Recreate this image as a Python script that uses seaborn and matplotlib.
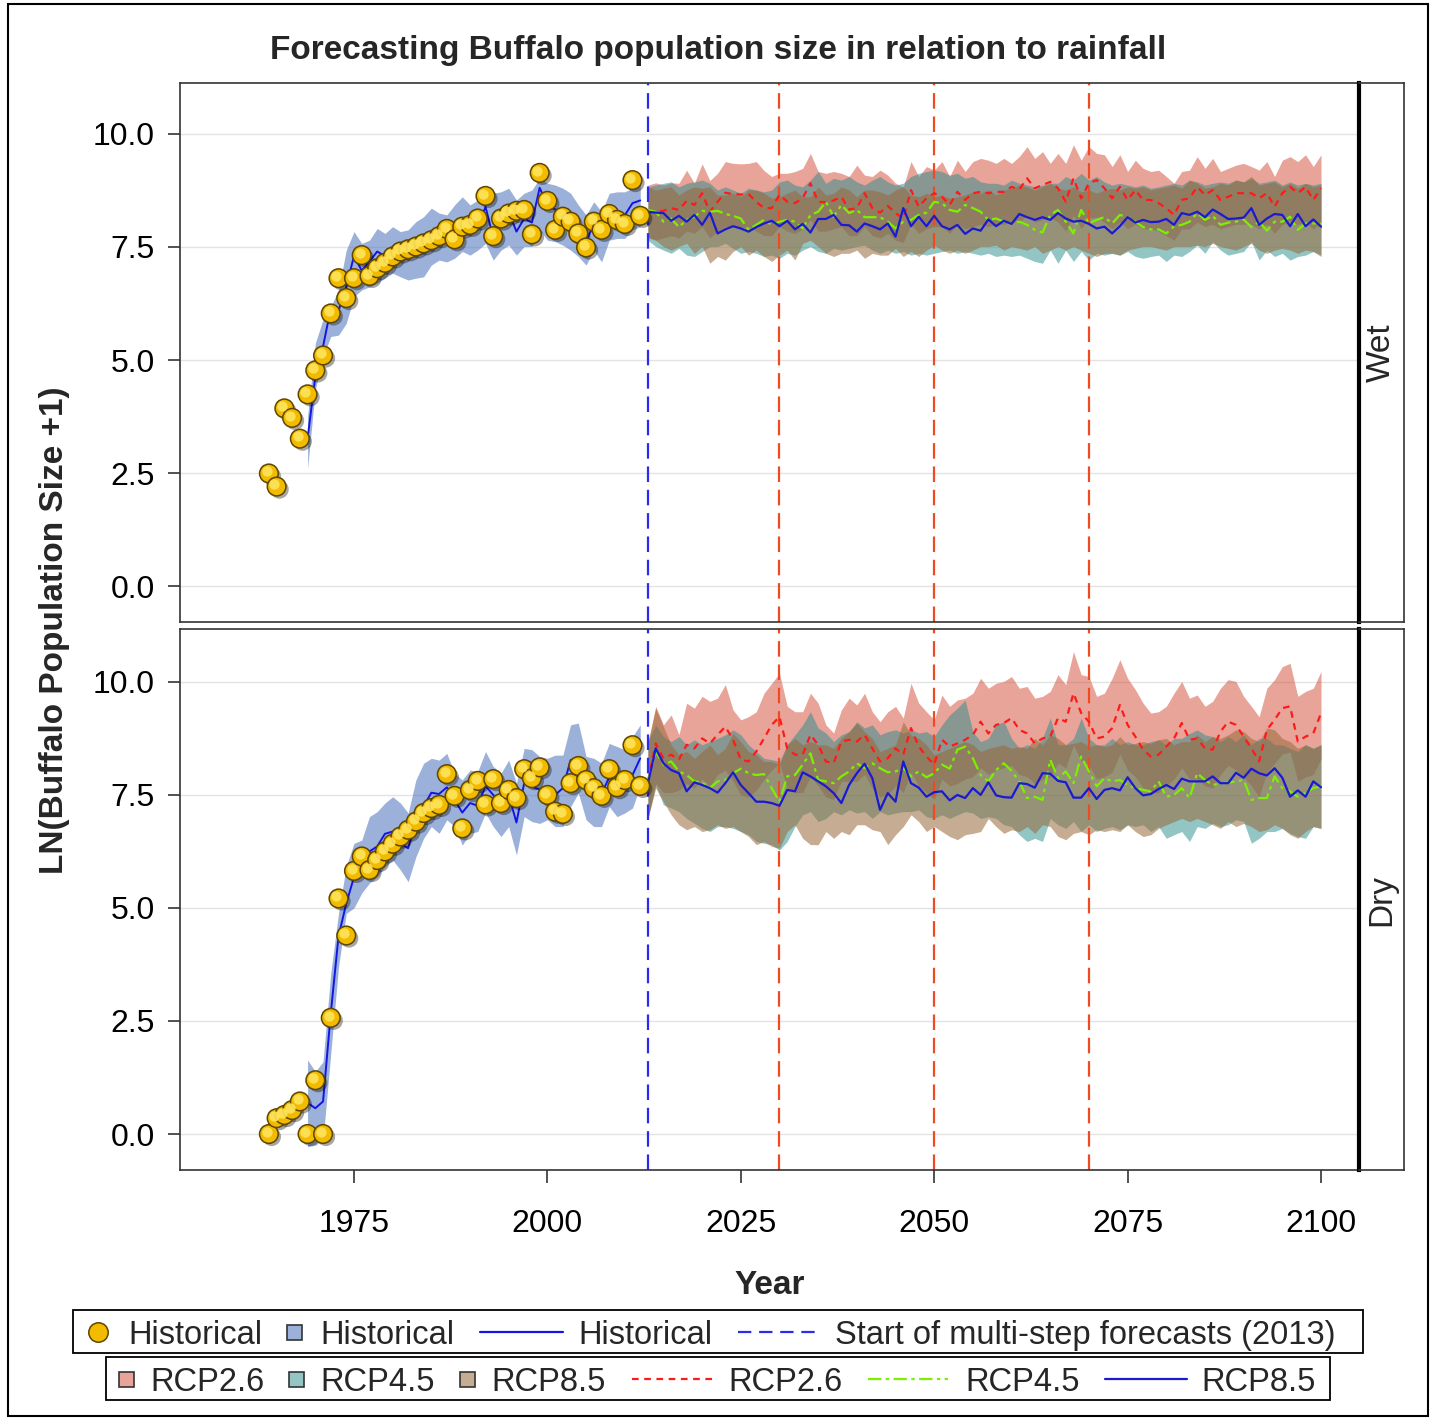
import matplotlib
matplotlib.use("Agg")
import matplotlib.pyplot as plt
import matplotlib.patheffects as pe
from matplotlib.lines import Line2D
from matplotlib.patches import Rectangle
from matplotlib.transforms import offset_copy
import numpy as np
import pandas as pd
import seaborn as sns

# ---------------------------------------------------------------- data
hist_years = list(range(1964, 2013))
fit_years = list(range(1969, 2013))
fc_years = list(range(2013, 2101))

# Wet panel -------------------------------------------------------------
wet_points = [2.49, 2.20, 3.93, 3.72, 3.26, 4.24, 4.77, 5.10, 6.03, 6.81, 6.37, 6.81, 7.32, 6.86, 7.03, 7.15, 7.29,
              7.40, 7.45, 7.51, 7.58, 7.65, 7.74, 7.90, 7.67, 7.95, 7.99, 8.13, 8.63, 7.74, 8.13, 8.24, 8.30, 8.32,
              7.78, 9.14, 8.52, 7.88, 8.17, 8.06, 7.80, 7.49, 8.06, 7.88, 8.23, 8.10, 8.01, 8.98, 8.19]
wet_fit = [3.26, 4.63, 5.30, 6.14, 6.09, 6.62, 7.30, 6.98, 7.18, 7.40, 7.30, 7.43, 7.29, 7.30, 7.35, 7.52, 7.86, 7.69,
           7.67, 7.96, 8.08, 7.84, 7.93, 8.39, 7.71, 8.20, 8.28, 7.84, 8.13, 8.04, 8.81, 8.43, 8.33, 8.28, 8.10, 7.84,
           7.62, 8.01, 7.69, 8.19, 8.20, 8.20, 8.47, 8.53]
wet_fit_hi = [3.75, 5.37, 5.90, 6.18, 6.55, 7.43, 7.84, 7.58, 7.65, 7.91, 7.80, 7.95, 7.84, 7.88, 8.06, 8.17, 8.36, 8.25,
              8.21, 8.43, 8.61, 8.43, 8.54, 8.87, 8.69, 8.72, 8.80, 8.54, 8.69, 8.76, 9.02, 8.91, 8.87, 8.80, 8.69,
              8.43, 8.21, 8.50, 8.28, 8.69, 8.72, 8.72, 8.80, 8.91]
wet_fit_lo = [2.60, 4.34, 5.07, 5.52, 5.55, 5.81, 6.40, 6.55, 6.62, 6.70, 6.81, 6.92, 6.84, 6.77, 6.81, 6.84, 7.10, 7.21,
              7.17, 7.25, 7.40, 7.32, 7.43, 7.58, 7.21, 7.43, 7.54, 7.32, 7.51, 7.51, 7.88, 7.65, 7.62, 7.54, 7.43,
              7.29, 7.10, 7.43, 7.17, 7.65, 7.69, 7.69, 7.88, 7.95]

wet_rcp26 = [8.25, 8.28, 8.30, 8.36, 8.32, 8.52, 8.43, 8.69, 8.28, 8.50, 8.70, 8.67, 8.66, 8.67, 8.50, 8.36, 8.36, 8.66,
             8.50, 8.47, 8.58, 8.91, 8.50, 8.49, 8.53, 8.61, 8.33, 8.36, 8.69, 8.36, 8.26,
             8.41, 8.25, 8.13, 8.76, 8.39, 8.58, 8.69, 8.61, 8.43, 8.72, 8.54, 8.69, 8.72, 8.69, 8.72, 8.72, 8.83,
             8.77, 9.02, 8.80, 8.87, 8.94, 8.80, 8.50, 9.02, 8.58, 8.91, 8.98, 8.80,
             8.58, 8.83, 8.54, 8.76, 8.54, 8.54, 8.47, 8.36, 8.21, 8.54, 8.58, 8.83, 8.65, 8.76, 8.54, 8.61, 8.69,
             8.69, 8.69, 8.58, 8.69, 8.39, 8.69, 8.83, 8.69, 8.83, 8.54, 8.80]
wet_rcp26_hi = [8.87, 8.92, 8.87, 8.92, 8.91, 9.20, 8.91, 9.34, 8.97, 9.13, 9.39, 9.35, 9.34, 9.35, 9.39, 9.19, 9.06,
                9.13, 9.13, 9.17, 9.24, 9.57, 9.17, 9.13, 9.17, 9.13, 9.06, 9.31, 9.09, 9.06, 9.20,
                9.09, 8.91, 8.83, 9.39, 9.06, 9.28, 9.20, 9.39, 9.06, 9.42, 9.17, 9.39, 9.46, 9.42, 9.35, 9.46, 9.35,
                9.50, 9.72, 9.46, 9.61, 9.35, 9.57, 9.35, 9.76, 9.42, 9.72, 9.57, 9.54,
                9.28, 9.54, 9.17, 9.42, 9.24, 9.17, 9.20, 9.06, 8.91, 9.17, 9.20, 9.50, 9.24, 9.46, 9.17, 9.24, 9.31,
                9.35, 9.28, 9.20, 9.39, 9.06, 9.42, 9.50, 9.39, 9.54, 9.28, 9.54]
wet_rcp26_lo = [7.70, 7.65, 7.70, 7.75, 7.70, 7.85, 7.80, 7.95, 7.70, 7.85, 7.95, 7.95, 7.90, 7.95, 7.85, 7.75, 7.75,
                7.95, 7.85, 7.80, 7.90, 8.10, 7.85, 7.85, 7.90, 7.95, 7.75, 7.75, 7.95, 7.75, 7.70,
                7.80, 7.65, 7.60, 8.00, 7.80, 7.90, 7.95, 7.95, 7.80, 8.00, 7.90, 7.95, 8.00, 7.95, 8.00, 8.00, 8.05,
                8.05, 8.20, 8.05, 8.10, 8.15, 8.05, 7.85, 8.20, 7.90, 8.15, 8.15, 8.05,
                7.90, 8.05, 7.90, 8.00, 7.90, 7.90, 7.85, 7.75, 7.65, 7.90, 7.90, 8.05, 7.95, 8.00, 7.90, 7.95, 8.00,
                8.00, 8.00, 7.90, 8.00, 7.80, 8.00, 8.05, 8.00, 8.05, 7.90, 8.05]

wet_rcp45 = [8.32, 8.28, 8.06, 8.13, 7.94, 8.10, 8.17, 8.30, 8.28, 8.30, 8.23, 8.19, 8.13, 7.88, 7.99, 8.10, 7.99, 8.06,
             8.10, 8.06, 7.91, 8.21, 8.28, 8.50, 8.17, 8.43, 8.25, 8.32, 8.16, 8.16, 8.16,
             8.06, 7.91, 8.06, 8.10, 8.21, 8.26, 8.50, 8.47, 8.32, 8.28, 8.43, 8.36, 8.28, 8.10, 8.13, 8.06, 8.02,
             8.06, 7.99, 7.88, 7.82, 8.21, 8.32, 8.06, 7.80, 8.32, 8.02, 8.10, 8.16,
             8.02, 8.21, 8.16, 8.06, 7.94, 7.89, 7.89, 7.80, 7.96, 7.99, 8.06, 8.25, 8.10, 8.19, 7.99, 8.04, 8.06,
             8.11, 7.94, 8.06, 7.86, 8.06, 8.06, 8.17, 7.88, 8.02, 8.02, 8.02]
wet_rcp45_hi = [8.83, 8.87, 8.91, 8.94, 8.83, 8.91, 8.94, 8.98, 8.91, 8.76, 8.83, 8.76, 8.69, 8.80, 8.76, 8.72, 8.76,
                8.94, 8.98, 8.87, 8.83, 8.98, 9.17, 8.91, 9.02, 8.98, 9.06, 8.94, 8.87, 8.98, 9.06,
                8.94, 8.87, 8.91, 9.06, 9.13, 9.17, 9.20, 9.17, 9.09, 9.13, 9.02, 9.06, 8.94, 8.91, 8.91, 8.87, 8.98,
                8.91, 8.87, 8.83, 8.87, 8.91, 8.91, 9.06, 8.98, 9.13, 8.98, 9.06, 8.94,
                8.87, 8.91, 8.87, 8.83, 8.87, 8.80, 8.83, 8.87, 8.91, 8.87, 8.98, 8.94, 8.87, 8.91, 8.94, 8.91, 8.98,
                8.94, 9.02, 8.91, 8.94, 8.98, 8.87, 8.94, 8.87, 8.91, 8.87, 8.91]
wet_rcp45_lo = [7.65, 7.51, 7.43, 7.36, 7.47, 7.32, 7.29, 7.40, 7.51, 7.51, 7.58, 7.47, 7.36, 7.40, 7.36, 7.29, 7.32,
                7.25, 7.36, 7.32, 7.43, 7.51, 7.40, 7.36, 7.47, 7.43, 7.47, 7.51, 7.54, 7.43, 7.36,
                7.43, 7.36, 7.40, 7.32, 7.36, 7.32, 7.36, 7.40, 7.43, 7.36, 7.40, 7.36, 7.32, 7.36, 7.29, 7.32, 7.29,
                7.32, 7.25, 7.18, 7.14, 7.43, 7.14, 7.43, 7.18, 7.40, 7.21, 7.36, 7.32,
                7.36, 7.32, 7.40, 7.29, 7.25, 7.29, 7.32, 7.18, 7.32, 7.29, 7.40, 7.54, 7.36, 7.62, 7.43, 7.32, 7.36,
                7.40, 7.62, 7.21, 7.43, 7.29, 7.36, 7.21, 7.29, 7.32, 7.40, 7.32]

wet_rcp85 = [8.28, 8.26, 8.25, 8.08, 8.19, 8.06, 8.21, 7.99, 8.26, 7.80, 7.89, 7.96, 7.91, 7.84, 7.94, 8.02, 8.08, 7.96,
             8.08, 7.89, 8.01, 7.82, 8.12, 8.12, 8.21, 7.99, 7.98, 7.84, 8.02, 7.96, 7.89,
             8.02, 7.73, 8.36, 7.96, 8.17, 7.96, 8.19, 7.96, 7.89, 7.99, 7.79, 7.91, 7.86, 8.11, 7.96, 8.08, 8.01,
             8.23, 8.16, 8.10, 8.16, 8.10, 8.25, 8.13, 8.06, 8.08, 8.01, 7.91, 7.95,
             7.80, 7.96, 8.16, 8.04, 8.10, 8.05, 8.06, 8.12, 7.99, 8.25, 8.21, 8.28, 8.16, 8.33, 8.23, 8.12, 8.13,
             8.15, 8.36, 7.99, 8.13, 8.23, 8.21, 7.96, 8.23, 7.96, 8.11, 7.95]
wet_rcp85_hi = [8.83, 8.76, 8.80, 8.83, 8.65, 8.76, 8.83, 8.80, 8.83, 8.65, 8.65, 8.69, 8.61, 8.76, 8.76, 8.69, 8.58,
                8.61, 8.69, 8.76, 8.61, 8.61, 8.83, 8.65, 8.69, 8.83, 8.76, 8.61, 8.76, 8.76, 8.72,
                8.65, 8.76, 8.83, 8.65, 8.61, 8.69, 8.61, 8.65, 8.58, 8.61, 8.65, 8.72, 8.69, 8.76, 8.65, 8.76, 8.80,
                8.87, 8.83, 8.76, 8.83, 8.91, 8.80, 8.76, 8.83, 8.72, 8.76, 8.69, 8.76,
                8.80, 8.76, 8.83, 8.80, 8.83, 8.76, 8.80, 8.83, 8.87, 8.80, 8.98, 8.91, 8.80, 8.83, 8.91, 8.87, 8.98,
                8.94, 9.06, 8.87, 8.91, 8.94, 8.83, 8.91, 8.80, 8.91, 8.83, 8.87]
wet_rcp85_lo = [7.73, 7.65, 7.51, 7.43, 7.51, 7.58, 7.36, 7.51, 7.14, 7.29, 7.21, 7.40, 7.51, 7.32, 7.43, 7.29, 7.18,
                7.32, 7.43, 7.21, 7.58, 7.65, 7.51, 7.36, 7.29, 7.36, 7.36, 7.43, 7.25, 7.36, 7.32,
                7.32, 7.47, 7.29, 7.40, 7.29, 7.43, 7.54, 7.43, 7.36, 7.43, 7.36, 7.43, 7.51, 7.51, 7.54, 7.43, 7.51,
                7.47, 7.43, 7.51, 7.36, 7.43, 7.51, 7.43, 7.51, 7.43, 7.36, 7.29, 7.36,
                7.36, 7.32, 7.43, 7.47, 7.51, 7.51, 7.47, 7.43, 7.51, 7.51, 7.51, 7.54, 7.51, 7.58, 7.51, 7.47, 7.43,
                7.51, 7.58, 7.43, 7.36, 7.43, 7.47, 7.43, 7.36, 7.43, 7.40, 7.29]

# Dry panel -------------------------------------------------------------
dry_points = [0.00, 0.35, 0.42, 0.53, 0.72, 0.00, 1.19, 0.00, 2.57, 5.21, 4.39, 5.82, 6.14, 5.84, 6.06, 6.25, 6.42,
              6.58, 6.73, 6.91, 7.10, 7.21, 7.28, 7.96, 7.48, 6.76, 7.61, 7.81, 7.29, 7.85, 7.32, 7.61, 7.43, 8.07,
              7.87, 8.11, 7.50, 7.13, 7.08, 7.76, 8.14, 7.83, 7.65, 7.48, 8.07, 7.67, 7.83, 8.60, 7.70]
dry_fit = [0.69, 0.57, 0.72, 2.67, 4.37, 5.10, 5.68, 5.70, 6.25, 6.36, 6.64, 6.69, 6.43, 6.32, 6.95, 7.25, 7.55, 7.52,
           7.67, 7.39, 7.11, 7.32, 7.26, 7.70, 7.50, 7.28, 7.50, 6.89, 7.76, 7.68, 7.62, 7.57, 7.50, 7.65, 8.27, 8.30,
           7.79, 7.53, 7.53, 7.89, 7.77, 7.83, 7.94, 8.31]
dry_fit_hi = [1.64, 1.38, 1.60, 3.56, 4.88, 5.92, 6.43, 6.50, 7.02, 7.13, 7.32, 7.46, 7.32, 7.10, 7.83, 8.20, 8.31, 8.27,
              8.42, 7.98, 7.83, 8.05, 8.02, 8.46, 8.13, 7.98, 8.27, 7.76, 8.53, 8.50, 8.35, 8.31, 8.38, 8.38, 9.05,
              9.09, 8.35, 8.31, 8.20, 8.64, 8.57, 8.50, 8.79, 9.05]
dry_fit_lo = [-0.28, -0.25, -0.13, 1.78, 3.70, 4.88, 5.00, 5.33, 5.55, 5.69, 5.91, 6.06, 5.84, 5.58, 6.13, 6.54, 6.80,
              6.65, 6.95, 6.80, 6.39, 6.65, 6.69, 7.10, 6.80, 6.58, 6.80, 6.17, 7.02, 6.91, 6.87, 6.95, 6.80, 6.80,
              7.24, 7.54, 6.95, 6.80, 6.80, 7.24, 7.02, 7.10, 7.21, 7.69]

dry_rcp26 = [7.80, 8.64, 8.31, 8.39, 8.28, 8.61, 8.53, 8.75, 8.64, 8.83, 9.01, 8.72, 8.28, 8.24, 8.46, 8.75, 9.05, 9.23,
             8.53, 8.39, 8.39, 8.83, 8.61, 8.24, 8.20, 8.68, 8.72, 8.68, 8.83, 8.53, 8.24,
             8.31, 8.53, 8.39, 8.98, 8.57, 8.35, 8.17, 8.72, 8.57, 8.64, 8.72, 8.83, 9.12, 8.86, 9.05, 9.09, 9.20,
             8.94, 8.86, 8.64, 8.75, 8.79, 9.20, 9.12, 9.75, 9.31, 9.12, 8.75, 8.79,
             8.98, 9.49, 9.05, 8.79, 8.50, 8.35, 8.39, 8.57, 8.75, 9.09, 8.72, 8.75, 8.53, 8.50, 8.90, 9.12, 9.05,
             8.79, 8.53, 8.24, 8.94, 9.16, 9.42, 9.46, 8.68, 8.79, 8.86, 9.31]
dry_rcp26_hi = [8.61, 9.46, 9.05, 9.27, 8.83, 9.53, 9.42, 9.68, 9.57, 9.64, 9.94, 9.38, 9.16, 9.23, 9.34, 9.75, 9.97,
                10.19, 9.46, 9.34, 9.34, 9.75, 9.53, 9.05, 8.87, 9.38, 9.64, 9.49, 9.75, 9.34, 9.12,
                9.34, 9.46, 9.20, 9.97, 9.53, 9.34, 9.16, 9.71, 9.46, 9.60, 9.64, 9.75, 10.08, 9.86, 9.97, 10.01,
                10.12, 9.86, 9.90, 9.64, 9.68, 9.79, 10.16, 9.94, 10.67, 10.16, 10.12, 9.68, 9.75,
                10.08, 10.49, 10.08, 9.83, 9.53, 9.31, 9.34, 9.46, 9.75, 10.01, 9.64, 9.71, 9.46, 9.57, 9.86, 10.05,
                10.01, 9.68, 9.46, 9.23, 9.86, 10.05, 10.34, 10.41, 9.68, 9.79, 9.86, 10.23]
dry_rcp26_lo = [7.00, 7.75, 7.55, 7.55, 7.60, 7.75, 7.65, 7.85, 7.70, 7.95, 8.05, 7.80, 7.50, 7.45, 7.60, 7.85, 8.05,
                8.20, 7.65, 7.55, 7.55, 7.90, 7.70, 7.45, 7.40, 7.80, 7.80, 7.80, 7.95, 7.65, 7.45,
                7.50, 7.70, 7.55, 8.00, 7.70, 7.55, 7.40, 7.85, 7.70, 7.75, 7.85, 7.90, 8.10, 7.95, 8.05, 8.10, 8.15,
                7.95, 7.90, 7.75, 7.85, 7.90, 8.20, 8.10, 8.60, 8.25, 8.15, 7.85, 7.90,
                8.00, 8.40, 8.05, 7.90, 7.65, 7.55, 7.55, 7.70, 7.85, 8.10, 7.85, 7.85, 7.70, 7.65, 7.95, 8.15, 8.05,
                7.90, 7.70, 7.45, 8.00, 8.20, 8.40, 8.45, 7.80, 7.90, 7.95, 8.30]

dry_rcp45 = [7.80, 8.46, 8.17, 8.24, 8.02, 7.94, 7.80, 7.78, 7.65, 7.80, 7.83, 7.98, 8.08, 7.98, 7.94, 7.96, 7.65, 7.35,
             7.91, 7.94, 8.17, 8.42, 7.83, 7.80, 7.76, 7.91, 8.02, 8.20, 8.09, 8.20, 8.09,
             8.00, 8.02, 8.09, 7.91, 8.02, 7.89, 7.98, 8.17, 8.08, 8.50, 8.57, 8.31, 7.94, 7.80, 8.05, 8.20, 8.03,
             7.80, 7.43, 7.46, 7.39, 8.28, 7.87, 8.02, 7.76, 8.35, 8.02, 7.69, 7.87,
             7.80, 7.83, 7.72, 7.65, 7.61, 7.58, 7.80, 7.46, 7.50, 7.65, 7.43, 7.98, 7.83, 7.72, 7.76, 7.77, 7.80,
             7.83, 7.39, 7.43, 7.43, 7.91, 7.65, 7.58, 7.46, 7.54, 7.65, 7.69]
dry_rcp45_hi = [8.68, 9.05, 8.79, 8.68, 8.79, 8.61, 8.72, 8.61, 8.68, 8.75, 8.83, 8.94, 8.83, 8.61, 8.46, 8.31, 8.28,
                8.24, 8.61, 8.83, 9.05, 9.34, 8.98, 8.87, 8.68, 8.83, 8.90, 9.12, 8.98, 9.05, 8.83,
                8.90, 8.94, 8.87, 8.94, 8.87, 8.90, 8.79, 9.05, 9.27, 9.42, 9.60, 8.90, 8.68, 8.75, 9.05, 9.12, 8.75,
                8.53, 8.61, 8.53, 8.75, 9.20, 8.61, 8.61, 8.75, 9.20, 8.75, 8.61, 8.61,
                8.75, 8.61, 8.68, 8.61, 8.61, 8.68, 8.72, 8.61, 8.75, 8.75, 8.86, 8.94, 8.83, 8.79, 8.68, 8.79, 8.68,
                8.83, 8.61, 8.75, 8.75, 8.61, 8.61, 8.53, 8.46, 8.61, 8.53, 8.61]
dry_rcp45_lo = [6.98, 7.72, 7.28, 7.21, 7.13, 6.98, 6.87, 6.76, 6.69, 6.80, 6.80, 6.76, 6.69, 6.62, 6.47, 6.43, 6.40,
                6.28, 6.47, 6.80, 7.06, 7.13, 6.91, 6.98, 7.13, 7.06, 7.17, 7.10, 7.13, 6.98, 7.13,
                7.06, 7.10, 7.13, 7.13, 7.17, 7.02, 6.98, 7.06, 6.98, 7.06, 7.13, 7.10, 6.98, 7.02, 6.98, 6.84, 6.80,
                6.62, 6.47, 6.54, 6.47, 6.98, 6.84, 6.76, 6.91, 6.69, 6.84, 6.69, 6.76,
                6.80, 6.73, 6.84, 6.80, 6.84, 6.69, 6.80, 6.54, 6.62, 6.69, 6.47, 6.80, 6.76, 6.87, 6.80, 6.84, 6.95,
                6.91, 6.43, 6.54, 6.69, 6.69, 6.76, 6.65, 6.58, 6.54, 6.80, 6.76]

dry_rcp85 = [7.75, 8.53, 8.20, 8.05, 7.98, 7.58, 7.78, 7.72, 7.65, 7.55, 7.76, 8.00, 7.72, 7.54, 7.35, 7.35, 7.32, 7.26,
             7.61, 7.58, 8.00, 7.91, 7.80, 7.69, 7.54, 7.32, 7.72, 7.98, 8.19, 7.87, 7.17,
             7.54, 7.35, 8.24, 7.76, 7.66, 7.46, 7.56, 7.58, 7.38, 7.50, 7.43, 7.65, 7.50, 7.78, 7.49, 7.45, 7.44,
             7.76, 7.74, 7.66, 7.98, 7.97, 7.81, 7.78, 7.44, 7.44, 7.65, 7.41, 7.61,
             7.65, 7.60, 7.89, 7.65, 7.49, 7.52, 7.63, 7.72, 7.63, 7.86, 7.80, 7.80, 7.80, 7.91, 7.76, 7.76, 7.99,
             7.88, 8.08, 7.98, 7.93, 8.09, 7.88, 7.46, 7.60, 7.46, 7.80, 7.67]
dry_rcp85_hi = [8.68, 9.42, 9.01, 8.61, 8.39, 8.46, 8.31, 8.46, 8.61, 8.39, 8.53, 8.86, 8.68, 8.46, 8.39, 8.24, 8.24,
                8.17, 8.61, 8.75, 8.61, 8.68, 8.61, 8.61, 8.53, 8.75, 8.90, 9.09, 8.90, 8.75, 8.46,
                8.53, 8.61, 9.12, 8.83, 8.75, 8.61, 8.39, 8.46, 8.53, 8.61, 8.68, 8.61, 8.46, 8.53, 8.57, 8.61, 8.53,
                8.57, 8.53, 8.75, 8.61, 8.83, 8.75, 8.61, 8.64, 8.68, 8.57, 8.61, 8.57,
                8.61, 8.79, 8.61, 8.64, 8.68, 8.64, 8.72, 8.75, 8.61, 8.68, 8.68, 8.83, 8.68, 8.79, 8.75, 8.83, 8.94,
                8.90, 8.75, 8.68, 8.98, 8.94, 8.75, 8.68, 8.53, 8.61, 8.53, 8.61]
dry_rcp85_lo = [6.98, 7.65, 7.35, 7.06, 6.84, 6.73, 6.80, 6.69, 6.73, 6.84, 6.76, 6.80, 6.69, 6.58, 6.40, 6.47, 6.36,
                6.32, 6.69, 6.84, 6.54, 6.40, 6.40, 6.69, 6.54, 6.69, 6.62, 6.84, 6.84, 6.73, 6.69,
                6.40, 6.62, 6.80, 7.06, 6.91, 6.69, 6.80, 6.69, 6.58, 6.51, 6.62, 6.65, 6.69, 6.98, 6.80, 6.65, 6.73,
                6.69, 6.80, 6.65, 6.84, 6.80, 6.58, 6.51, 6.65, 6.69, 6.62, 6.73, 6.69,
                6.73, 6.69, 6.84, 6.69, 6.58, 6.62, 6.76, 6.84, 6.91, 6.98, 6.91, 6.98, 6.91, 6.84, 6.76, 6.91, 6.80,
                6.87, 6.80, 6.69, 6.73, 6.84, 6.76, 6.62, 6.54, 6.69, 6.80, 6.76]

y_ticks = [0.0, 2.5, 5.0, 7.5, 10.0]
y_tick_labels = ["0.0", "2.5", "5.0", "7.5", "10.0"]
x_ticks = [1975, 2000, 2025, 2050, 2075, 2100]
x_tick_labels = ["1975", "2000", "2025", "2050", "2075", "2100"]
forecast_start = 2013
period_marks = [2030, 2050, 2070]
panel_labels = ["Wet", "Dry"]
scenarios = ["RCP2.6", "RCP4.5", "RCP8.5"]

for arr in (wet_rcp26, wet_rcp26_hi, wet_rcp26_lo, wet_rcp45, wet_rcp45_hi, wet_rcp45_lo, wet_rcp85, wet_rcp85_hi,
            wet_rcp85_lo, dry_rcp26, dry_rcp26_hi, dry_rcp26_lo, dry_rcp45, dry_rcp45_hi, dry_rcp45_lo, dry_rcp85,
            dry_rcp85_hi, dry_rcp85_lo):
    assert len(arr) == len(fc_years), len(arr)
for arr in (wet_fit, wet_fit_hi, wet_fit_lo, dry_fit, dry_fit_hi, dry_fit_lo):
    assert len(arr) == len(fit_years), len(arr)
for arr in (wet_points, dry_points):
    assert len(arr) == len(hist_years), len(arr)

# ---------------------------------------------------------------- style
sns.set_theme(style="white")
plt.rcParams['font.family'] = ['Liberation Sans', 'DejaVu Sans']

W, H = 1432, 1420
fig = plt.figure(figsize=(W / 100, H / 100), dpi=100)


def fx(px):
    return px / W


def fy(py):
    return 1 - py / H


HIST_BAND = '#5a7dc0'
HIST_BAND_A = 0.6
HIST_LINE = '#1414e6'
BAND_COL = {'RCP2.6': '#d75a46', 'RCP4.5': '#288c8c', 'RCP8.5': '#98693a'}
BAND_A = {'RCP2.6': 0.55, 'RCP4.5': 0.5, 'RCP8.5': 0.55}
LINE_COL = {'RCP2.6': '#ff1a1a', 'RCP4.5': '#7cf000', 'RCP8.5': '#1a1ad0'}
LINE_LS = {'RCP2.6': (0, (3.0, 2.5)), 'RCP4.5': (0, (6, 2, 1.5, 2)), 'RCP8.5': '-'}
GOLD = '#f2bb00'
GOLD_EDGE = '#5e4700'
BLUE_REF = '#2a2af0'
RED_REF = '#f04a23'
FS = 23

panels = {
    'Wet': dict(points=wet_points, fit=wet_fit, lo=wet_fit_lo, hi=wet_fit_hi,
                fc={'RCP2.6': (wet_rcp26, wet_rcp26_lo, wet_rcp26_hi),
                    'RCP4.5': (wet_rcp45, wet_rcp45_lo, wet_rcp45_hi),
                    'RCP8.5': (wet_rcp85, wet_rcp85_lo, wet_rcp85_hi)},
                box=(83, 622), ylim=(-0.796, 11.128)),
    'Dry': dict(points=dry_points, fit=dry_fit, lo=dry_fit_lo, hi=dry_fit_hi,
                fc={'RCP2.6': (dry_rcp26, dry_rcp26_lo, dry_rcp26_hi),
                    'RCP4.5': (dry_rcp45, dry_rcp45_lo, dry_rcp45_hi),
                    'RCP8.5': (dry_rcp85, dry_rcp85_lo, dry_rcp85_hi)},
                box=(629, 1170), ylim=(-0.796, 11.17)),
}

for i, name in enumerate(panel_labels):
    p = panels[name]
    top, bot = p['box']
    ax = fig.add_axes([fx(180), fy(bot), (1359 - 180) / W, (bot - top) / H])
    sax = fig.add_axes([fx(1359), fy(bot), (1404 - 1359) / W, (bot - top) / H])

    # bands
    ax.fill_between(fit_years, p['lo'], p['hi'], color=HIST_BAND, alpha=HIST_BAND_A, lw=0, zorder=1)
    for sc in scenarios:
        mean, lo, hi = p['fc'][sc]
        ax.fill_between(fc_years, lo, hi, color=BAND_COL[sc], alpha=BAND_A[sc], lw=0, zorder=1.5)

    # reference lines
    ax.axvline(forecast_start, color=BLUE_REF, lw=1.6, ls=(0, (7, 3.5)), zorder=2.5)
    for yr in period_marks:
        ax.axvline(yr, color=RED_REF, lw=1.6, ls=(0, (7, 3.5)), zorder=2.5)

    # lines
    sns.lineplot(x=fit_years, y=p['fit'], ax=ax, color=HIST_LINE, lw=1.4, zorder=3)
    for sc in scenarios:
        mean = p['fc'][sc][0]
        sns.lineplot(x=fc_years, y=mean, ax=ax, color=LINE_COL[sc], lw=1.6, linestyle=LINE_LS[sc], zorder=3)

    # observed points (gold balls with shading)
    sns.scatterplot(x=hist_years, y=p['points'], ax=ax, s=180, color=GOLD, edgecolor=GOLD_EDGE, linewidth=1.1,
                    zorder=5, legend=False,
                    path_effects=[pe.SimplePatchShadow(offset=(2.0, -2.0), shadow_rgbFace='black', alpha=0.35),
                                  pe.Normal()])
    hl = offset_copy(ax.transData, fig=fig, x=-1.6, y=1.6, units='points')
    sns.scatterplot(x=hist_years, y=p['points'], ax=ax, s=55, color='#ffe45c', linewidth=0, alpha=0.9,
                    zorder=6, legend=False, transform=hl)

    # axes styling
    ax.set_xlim(1952.51, 2104.91)
    ax.set_ylim(*p['ylim'])
    ax.set_yticks(y_ticks)
    ax.set_yticklabels(y_tick_labels)
    ax.set_xticks(x_ticks)
    ax.set_xlabel('')
    ax.set_ylabel('')
    ax.grid(axis='y', color='#e3e3e3', lw=1.0, zorder=0)
    ax.grid(axis='x', visible=False)
    ax.set_axisbelow(True)
    ax.tick_params(axis='y', left=True, length=9, width=1.2, direction='out', pad=9, labelsize=FS,
                   color='#333333', labelcolor='black')
    if i == 0:
        ax.tick_params(axis='x', bottom=False, labelbottom=False)
    else:
        ax.set_xticklabels(x_tick_labels)
        ax.tick_params(axis='x', bottom=True, length=9, width=1.2, direction='out', pad=19, labelsize=FS,
                       color='#333333', labelcolor='black')
    for sp in ax.spines.values():
        sp.set_color('#333333')
        sp.set_linewidth(1.2)
    ax.spines['right'].set_visible(False)

    # strip
    sax.set_xticks([])
    sax.set_yticks([])
    sax.set_facecolor('white')
    for sp in sax.spines.values():
        sp.set_color('#333333')
        sp.set_linewidth(1.2)
    sax.spines['left'].set_color('black')
    sax.spines['left'].set_linewidth(3.0)
    sax.text(0.5, 0.5, name, rotation=90, ha='center', va='center', fontsize=24, transform=sax.transAxes)

# titles / labels
fig.text(fx(718), fy(50), 'Forecasting Buffalo population size in relation to rainfall',
         ha='center', va='center', fontsize=24, fontweight='bold')
fig.text(fx(769.5), fy(1285), 'Year', ha='center', va='center', fontsize=24, fontweight='bold')
fig.text(fx(55), fy(630), 'LN(Buffalo Population Size +1)', ha='center', va='center', rotation=90,
         fontsize=24, fontweight='bold')

# legend (two framed rows)
LFS = 23.5


def add_box(x0, y0, x1, y1):
    fig.add_artist(Rectangle((fx(x0), fy(y1)), (x1 - x0) / W, (y1 - y0) / H, transform=fig.transFigure,
                             fill=False, edgecolor='black', lw=1.3))


def add_text(px, py, s):
    fig.text(fx(px), fy(py), s, ha='left', va='center_baseline', fontsize=LFS)


def add_line(x0, x1, py, color, ls, lw=1.6):
    fig.add_artist(Line2D([fx(x0), fx(x1)], [fy(py), fy(py)], transform=fig.transFigure, color=color,
                          ls=ls, lw=lw))


def add_swatch(px, py, color, alpha):
    fig.add_artist(Rectangle((fx(px), fy(py + 7.5)), 15 / W, 15 / H, transform=fig.transFigure,
                             facecolor=color, alpha=alpha, edgecolor='none'))
    fig.add_artist(Rectangle((fx(px), fy(py + 7.5)), 15 / W, 15 / H, transform=fig.transFigure,
                             fill=False, edgecolor='#333333', lw=1.2))


r1 = 1332
add_box(73, 1310, 1363, 1353)
fig.add_artist(Line2D([fx(98)], [fy(r1)], transform=fig.transFigure, marker='o', ms=14, mfc=GOLD, mec=GOLD_EDGE,
                      mew=1.1, ls='none'))
add_text(128, r1, 'Historical')
add_swatch(287, r1, HIST_BAND, HIST_BAND_A)
add_text(320, r1, 'Historical')
add_line(480, 563, r1, HIST_LINE, '-')
add_text(578, r1, 'Historical')
add_line(738, 820, r1, BLUE_REF, (0, (6, 3.5)))
add_text(835, r1, 'Start of multi-step forecasts (2013)')

r2 = 1379
add_box(106, 1357, 1330, 1400)
add_swatch(119, r2, BAND_COL['RCP2.6'], BAND_A['RCP2.6'])
add_text(150, r2, 'RCP2.6')
add_swatch(289, r2, BAND_COL['RCP4.5'], BAND_A['RCP4.5'])
add_text(320, r2, 'RCP4.5')
add_swatch(460, r2, BAND_COL['RCP8.5'], BAND_A['RCP8.5'])
add_text(491, r2, 'RCP8.5')
add_line(632, 712, r2, LINE_COL['RCP2.6'], LINE_LS['RCP2.6'])
add_text(728, r2, 'RCP2.6')
add_line(868, 948, r2, LINE_COL['RCP4.5'], LINE_LS['RCP4.5'])
add_text(965, r2, 'RCP4.5')
add_line(1105, 1187, r2, LINE_COL['RCP8.5'], '-')
add_text(1201, r2, 'RCP8.5')

# outer frame
fig.add_artist(Rectangle((fx(8), fy(1416)), (1428 - 8) / W, (1416 - 4) / H, transform=fig.transFigure,
                         fill=False, edgecolor='black', lw=1.5))

fig.savefig('out.png', dpi=100)
